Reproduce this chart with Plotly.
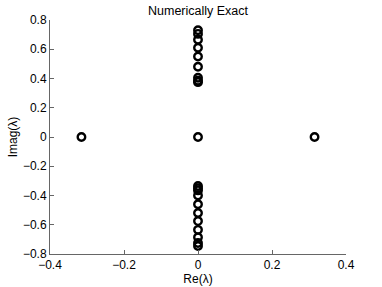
import plotly.graph_objects as go

re_vals = [-0.315, 0.0, 0.315,
           0, 0, 0, 0, 0, 0, 0, 0, 0,
           0, 0, 0, 0, 0, 0, 0, 0, 0, 0, 0]
im_vals = [0.0, 0.0, 0.0,
           0.73, 0.705, 0.665, 0.61, 0.55, 0.48, 0.405, 0.385, 0.375,
           -0.335, -0.35, -0.365, -0.40, -0.46, -0.52, -0.575, -0.635, -0.685, -0.725, -0.745]

x_ticks = [-0.4, -0.2, 0, 0.2, 0.4]
x_labels = ["\u22120.4", "\u22120.2", "0", "0.2", "0.4"]
y_ticks = [-0.8, -0.6, -0.4, -0.2, 0, 0.2, 0.4, 0.6, 0.8]
y_labels = ["\u22120.8", "\u22120.6", "\u22120.4", "\u22120.2", "0", "0.2", "0.4", "0.6", "0.8"]

fig = go.Figure()
fig.add_trace(go.Scatter(
    x=re_vals, y=im_vals, mode="markers",
    marker=dict(symbol="circle-open", size=7.5, color="black", line=dict(width=2.4, color="black")),
    showlegend=False, cliponaxis=False))

font = dict(family="Liberation Sans, Arial, sans-serif", size=12, color="black")
fig.update_layout(
    width=382, height=287,
    margin=dict(l=50, r=36, t=20, b=33, autoexpand=False),
    paper_bgcolor="white", plot_bgcolor="white",
    font=font,
    title=dict(text="Numerically Exact", x=0.5, xanchor="center", xref="paper",
               y=0.978, yanchor="top", yref="container",
               font=dict(size=12.5, family=font["family"], color="black")),
    xaxis=dict(range=[-0.4, 0.4], tickvals=x_ticks, ticktext=x_labels, automargin=False,
               showgrid=False, zeroline=False, showline=True, linecolor="#666", linewidth=1,
               ticks="inside", ticklen=4, tickcolor="#666",
               title=dict(text="Re(\u03bb)", standoff=0, font=font)),
    yaxis=dict(range=[-0.8, 0.8], tickvals=y_ticks, ticktext=y_labels, automargin=False,
               showgrid=False, zeroline=False, showline=True, linecolor="#666", linewidth=1,
               ticks="inside", ticklen=4, tickcolor="#666",
               title=dict(text="Imag(\u03bb)", standoff=2, font=font)),
)
fig.write_html("out.html", config={"displayModeBar": False},
               post_script="document.body.style.margin='0';")
